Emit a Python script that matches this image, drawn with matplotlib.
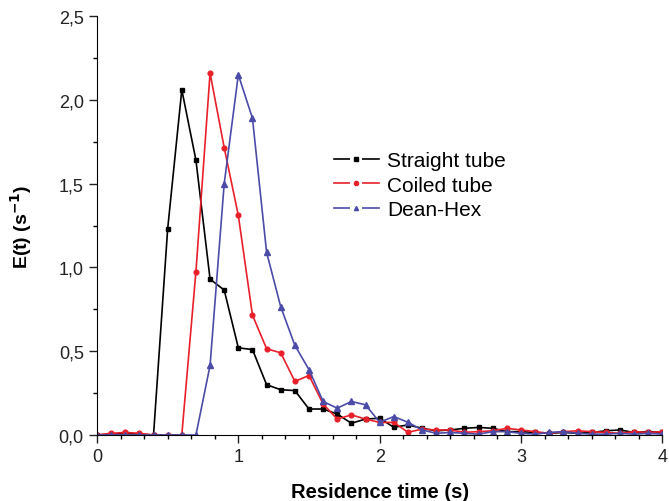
import matplotlib.pyplot as plt
from matplotlib.lines import Line2D
from matplotlib.legend_handler import HandlerTuple
from matplotlib.ticker import MultipleLocator, FuncFormatter

plt.rcParams['font.family'] = ['Liberation Sans', 'DejaVu Sans']

# residence time (s), one sample every 0.1 s
t = [0.0, 0.1, 0.2, 0.3, 0.4, 0.5, 0.6, 0.7, 0.8, 0.9,
     1.0, 1.1, 1.2, 1.3, 1.4, 1.5, 1.6, 1.7, 1.8, 1.9,
     2.0, 2.1, 2.2, 2.3, 2.4, 2.5, 2.6, 2.7, 2.8, 2.9,
     3.0, 3.1, 3.2, 3.3, 3.4, 3.5, 3.6, 3.7, 3.8, 3.9, 4.0]

straight = [0.0, 0.005, 0.01, 0.005, 0.0, 1.23, 2.06, 1.64, 0.93, 0.865,
            0.52, 0.51, 0.30, 0.27, 0.265, 0.155, 0.155, 0.125, 0.07, 0.095,
            0.10, 0.046, 0.06, 0.04, 0.025, 0.03, 0.04, 0.045, 0.04, 0.02,
            0.02, 0.015, 0.01, 0.015, 0.01, 0.015, 0.025, 0.03, 0.015, 0.02, 0.015]

coiled = [0.0, 0.01, 0.015, 0.01, 0.0, 0.0, 0.0, 0.975, 2.16, 1.715,
          1.31, 0.715, 0.515, 0.49, 0.32, 0.355, 0.185, 0.095, 0.12, 0.095,
          0.075, 0.075, 0.016, 0.035, 0.03, 0.03, 0.016, 0.02, 0.025, 0.04,
          0.03, 0.02, 0.01, 0.02, 0.025, 0.02, 0.015, 0.01, 0.02, 0.015, 0.02]

dean = [0.0, 0.0, 0.0, 0.0, 0.0, 0.0, 0.0, 0.0, 0.415, 1.50,
        2.15, 1.89, 1.09, 0.765, 0.535, 0.39, 0.20, 0.16, 0.20, 0.18,
        0.076, 0.11, 0.076, 0.03, 0.01, 0.015, 0.01, 0.005, 0.02, 0.02,
        0.01, 0.005, 0.015, 0.02, 0.01, 0.005, 0.005, 0.01, 0.005, 0.01, 0.005]

labels = ['Straight tube', 'Coiled tube', 'Dean-Hex']
colors = ['black', '#e8202a', '#4b4ba8']
markers = ['s', 'o', '^']

fig = plt.figure(figsize=(6.69, 5.02), dpi=100)
ax = fig.add_axes([0.145, 0.1315, 0.845, 0.8345])

for y, c, m in zip([straight, coiled, dean], colors, markers):
    ax.plot(t, y, color=c, lw=1.2, marker=m, ms=3.8 if m == '^' else 3.4)

ax.set_xlim(0, 4)
ax.set_ylim(0, 2.5)
ax.xaxis.set_major_locator(MultipleLocator(1))
ax.xaxis.set_minor_locator(MultipleLocator(1 / 6))
ax.yaxis.set_major_locator(MultipleLocator(0.5))
ax.yaxis.set_minor_locator(MultipleLocator(0.25))
ax.yaxis.set_major_formatter(FuncFormatter(lambda v, p: f"{v:.1f}".replace('.', ',')))

ax.spines['top'].set_visible(False)
ax.spines['right'].set_visible(False)
ax.tick_params(which='major', direction='out', length=6, width=1, labelsize=13, colors='#222222')
ax.tick_params(which='minor', direction='out', length=3, width=1)

ax.set_xlabel('Residence time (s)', fontsize=14.5, fontweight='bold', labelpad=12)
ax.set_ylabel('E(t) (s$^{\\mathbf{-1}}$)', fontsize=14, fontweight='bold', labelpad=18)

# Origin-style legend keys: line - gap - marker - gap - line
handles = []
for c, m in zip(colors, markers):
    line = Line2D([], [], color=c, lw=1.2)
    gap = Line2D([], [], ls='none', marker='s', ms=9, mfc='white', mec='white', mew=0)
    mark = Line2D([], [], ls='none', marker=m, ms=3, color=c)
    handles.append((line, gap, mark))
ax.legend(handles, labels, loc='upper left', bbox_to_anchor=(0.405, 0.698), frameon=False,
          fontsize=15, handlelength=2.13, handletextpad=0.4, labelspacing=0.27,
          borderaxespad=0.0, handler_map={tuple: HandlerTuple(ndivide=1, pad=0)})

fig.savefig('out.png', dpi=100)
